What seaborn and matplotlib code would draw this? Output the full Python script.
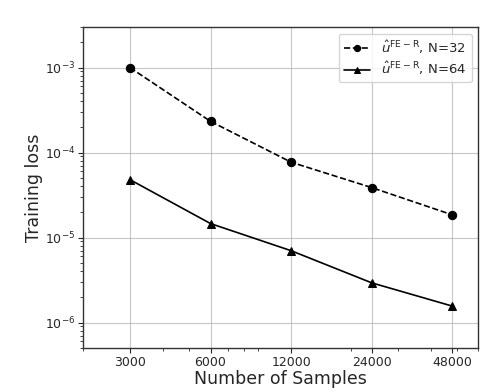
import matplotlib
matplotlib.use("Agg")
import matplotlib.pyplot as plt
import matplotlib.ticker as mticker
import pandas as pd
import seaborn as sns

sns.set_style("ticks")
plt.rcParams['font.family'] = ['DejaVu Sans']
plt.rcParams['mathtext.fontset'] = 'dejavusans'

samples = [3000, 6000, 12000, 24000, 48000]
loss_n32 = [1.0e-3, 2.33e-4, 7.7e-5, 3.87e-5, 1.85e-5]
loss_n64 = [4.8e-5, 1.46e-5, 7.0e-6, 2.93e-6, 1.56e-6]
label_n32 = r'$\hat{u}^{\mathrm{FE-R}}$, N=32'
label_n64 = r'$\hat{u}^{\mathrm{FE-R}}$, N=64'

df = pd.DataFrame({'samples': samples * 2,
                   'loss': loss_n32 + loss_n64,
                   'series': [label_n32] * 5 + [label_n64] * 5})

fig, ax = plt.subplots(figsize=(4.9, 3.92), dpi=100)
fig.subplots_adjust(left=0.169, right=0.976, top=0.931, bottom=0.112)

sns.lineplot(data=df[df.series == label_n32], x='samples', y='loss', ax=ax,
             color='black', linestyle='--', marker='o', markersize=6,
             markeredgecolor='black', linewidth=1.2, legend=False)
sns.lineplot(data=df[df.series == label_n64], x='samples', y='loss', ax=ax,
             color='black', linestyle='-', marker='^', markersize=6,
             markeredgecolor='black', linewidth=1.2, legend=False)

ax.set_xscale('log')
ax.set_yscale('log')
ax.set_xlim(2000, 60000)
ax.set_ylim(5e-7, 3e-3)
ax.set_xticks(samples)
ax.xaxis.set_major_formatter(mticker.FixedFormatter([str(s) for s in samples]))
ax.tick_params(axis='both', which='major', labelsize=9, length=3.5, width=0.8, pad=2)
ax.tick_params(axis='both', which='minor', length=2, width=0.6)
ax.grid(True, which='major', color='#b0b0b0', linewidth=0.8, alpha=0.7)
for s in ax.spines.values():
    s.set_color('#333333')
    s.set_linewidth(1.0)

ax.set_xlabel('Number of Samples', fontsize=12.5, labelpad=1)
ax.set_ylabel('Training loss', fontsize=12.5, labelpad=1)
ax.legend(handles=ax.get_lines()[:2], labels=[label_n32, label_n64],
          loc='upper right', fontsize=9.5, handlelength=2.0, labelspacing=0.3,
          markerscale=0.75, borderpad=0.4, frameon=True,
          fancybox=True, framealpha=0.8, edgecolor='#cccccc')

plt.savefig('out.png', dpi=100)
